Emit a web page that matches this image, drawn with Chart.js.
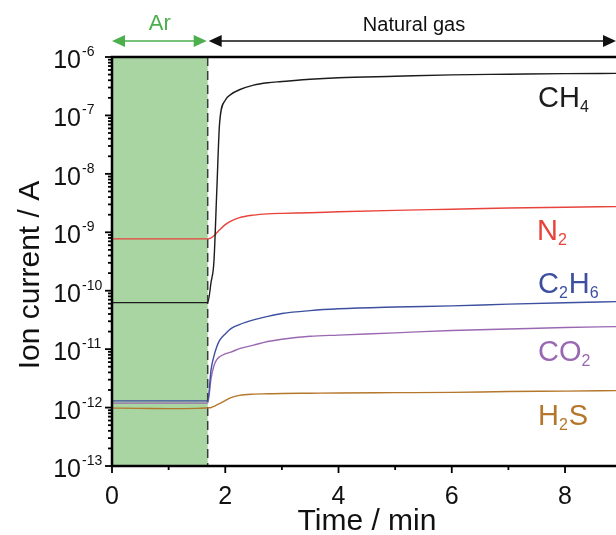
<!DOCTYPE html>
<html>
<head>
<meta charset="utf-8">
<script src="https://cdn.jsdelivr.net/npm/chart.js@4"></script>
<style>
  html, body { margin: 0; padding: 0; background: #fff; }
</style>
</head>
<body>
<canvas id="ionChart" width="616" height="535"></canvas>
<script>
// time axis (min), shared by all series
const times = [0, 0.5, 1.0, 1.5, 1.69, 1.75, 1.8, 1.85, 1.9, 2.0, 2.1, 2.25, 2.5, 2.75, 3.0, 3.5, 4, 5, 6, 7, 8, 8.9];

// ion currents (A)
const ch4  = [6.25e-11, 6.25e-11, 6.25e-11, 6.25e-11, 6.25e-11, 1.41e-10, 3.16e-10, 5.0e-9, 7.4e-8, 1.82e-7, 2.29e-7, 2.75e-7, 3.31e-7, 3.63e-7, 3.80e-7, 4.17e-7, 4.42e-7, 4.68e-7, 4.95e-7, 5.07e-7, 5.19e-7, 5.25e-7];
const n2   = [7.7e-10, 7.7e-10, 7.7e-10, 7.7e-10, 7.7e-10, 8.0e-10, 8.7e-10, 9.8e-10, 1.10e-9, 1.35e-9, 1.55e-9, 1.78e-9, 1.97e-9, 2.07e-9, 2.11e-9, 2.16e-9, 2.24e-9, 2.37e-9, 2.48e-9, 2.60e-9, 2.69e-9, 2.75e-9];
const c2h6 = [1.30e-12, 1.30e-12, 1.30e-12, 1.30e-12, 1.30e-12, 4.5e-12, 7.6e-12, 1.10e-11, 1.41e-11, 1.82e-11, 2.24e-11, 2.63e-11, 3.16e-11, 3.63e-11, 4.07e-11, 4.57e-11, 4.90e-11, 5.25e-11, 5.50e-11, 5.90e-11, 6.24e-11, 6.50e-11];
const co2  = [1.19e-12, 1.19e-12, 1.19e-12, 1.19e-12, 1.19e-12, 3.2e-12, 5.2e-12, 6.6e-12, 7.4e-12, 8.3e-12, 8.9e-12, 1.02e-11, 1.17e-11, 1.35e-11, 1.48e-11, 1.66e-11, 1.74e-11, 1.90e-11, 2.09e-11, 2.21e-11, 2.34e-11, 2.43e-11];
const h2s  = [9.8e-13, 9.7e-13, 9.6e-13, 9.7e-13, 9.9e-13, 1.00e-12, 1.05e-12, 1.11e-12, 1.17e-12, 1.32e-12, 1.48e-12, 1.62e-12, 1.70e-12, 1.72e-12, 1.74e-12, 1.76e-12, 1.78e-12, 1.80e-12, 1.82e-12, 1.88e-12, 1.91e-12, 1.95e-12];

const xTicks = [0, 2, 4, 6, 8];
const xMinorTicks = [1, 3, 5, 7];
const yExponents = [-13, -12, -11, -10, -9, -8, -7, -6];
const arEnd = 1.69;   // switch from Ar to natural gas

const FONT = '"Liberation Sans", Arial, Helvetica, sans-serif';

const series = [
  { name: 'CH4',  data: ch4,  color: '#1c1c1c', label: [['CH', 0], ['4', 1]],        at: [538, 107] },
  { name: 'N2',   data: n2,   color: '#e8433b', label: [['N', 0], ['2', 1]],         at: [537, 240] },
  { name: 'C2H6', data: c2h6, color: '#3d4f9f', label: [['C', 0], ['2', 1], ['H', 0], ['6', 1]], at: [538, 293] },
  { name: 'CO2',  data: co2,  color: '#9a68b2', label: [['CO', 0], ['2', 1]],        at: [538, 361] },
  { name: 'H2S',  data: h2s,  color: '#b5772c', label: [['H', 0], ['2', 1], ['S', 0]], at: [538, 425] }
];

function drawArrow(ctx, xa, xb, y, color) {
  const head = 13, half = 6;
  ctx.strokeStyle = color;
  ctx.fillStyle = color;
  ctx.lineWidth = 1.6;
  ctx.beginPath();
  ctx.moveTo(xa + head - 2, y);
  ctx.lineTo(xb - head + 2, y);
  ctx.stroke();
  ctx.beginPath();
  ctx.moveTo(xa, y); ctx.lineTo(xa + head, y - half); ctx.lineTo(xa + head, y + half); ctx.closePath();
  ctx.fill();
  ctx.beginPath();
  ctx.moveTo(xb, y); ctx.lineTo(xb - head, y - half); ctx.lineTo(xb - head, y + half); ctx.closePath();
  ctx.fill();
}

function drawChem(ctx, parts, x, y, color) {
  ctx.fillStyle = color;
  ctx.textAlign = 'left';
  ctx.textBaseline = 'alphabetic';
  let cx = x;
  parts.forEach(([txt, sub]) => {
    ctx.font = (sub ? '16px ' : '29px ') + FONT;
    ctx.fillText(txt, cx, sub ? y + 5 : y);
    cx += ctx.measureText(txt).width + (sub ? 1 : 0);
  });
}

const overlay = {
  id: 'overlay',
  beforeDatasetsDraw(chart) {
    const { ctx, chartArea: a, scales: { x } } = chart;
    const xe = x.getPixelForValue(arEnd);
    ctx.save();
    ctx.fillStyle = '#a8d5a2';
    ctx.fillRect(a.left, a.top, xe - a.left, a.bottom - a.top);
    ctx.strokeStyle = '#3a3a3a';
    ctx.lineWidth = 1.5;
    ctx.setLineDash([9, 5]);
    ctx.beginPath();
    ctx.moveTo(xe, a.top);
    ctx.lineTo(xe, a.bottom);
    ctx.stroke();
    ctx.restore();
  },
  afterDatasetsDraw(chart) {
    const { ctx, chartArea: a, scales: { x, y } } = chart;
    ctx.save();

    // frame
    ctx.strokeStyle = '#000';
    ctx.lineWidth = 2.5;
    ctx.beginPath();
    ctx.moveTo(616, a.top); ctx.lineTo(a.left, a.top); ctx.lineTo(a.left, a.bottom); ctx.lineTo(616, a.bottom);
    ctx.stroke();

    // y ticks
    ctx.lineWidth = 1.8;
    yExponents.forEach((e, i) => {
      const py = y.getPixelForValue(Math.pow(10, e));
      ctx.beginPath(); ctx.moveTo(a.left - 7, py); ctx.lineTo(a.left, py); ctx.stroke();
      if (i < yExponents.length - 1) {
        for (let m = 2; m <= 9; m++) {
          const pm = y.getPixelForValue(m * Math.pow(10, e));
          ctx.beginPath(); ctx.moveTo(a.left - 4, pm); ctx.lineTo(a.left, pm); ctx.stroke();
        }
      }
    });
    // x ticks
    xTicks.forEach(v => {
      const px = x.getPixelForValue(v);
      ctx.beginPath(); ctx.moveTo(px, a.bottom); ctx.lineTo(px, a.bottom + 7); ctx.stroke();
    });
    xMinorTicks.forEach(v => {
      const px = x.getPixelForValue(v);
      ctx.beginPath(); ctx.moveTo(px, a.bottom); ctx.lineTo(px, a.bottom + 4); ctx.stroke();
    });

    // tick labels
    ctx.fillStyle = '#111';
    yExponents.forEach(e => {
      const py = y.getPixelForValue(Math.pow(10, e));
      ctx.font = '25px ' + FONT;
      ctx.textAlign = 'right';
      ctx.textBaseline = 'alphabetic';
      ctx.fillText('10', 81, py + 11);
      ctx.font = '14px ' + FONT;
      ctx.textAlign = 'left';
      ctx.fillText(String(e), 82, py - 1);
    });
    ctx.font = '25px ' + FONT;
    ctx.textAlign = 'center';
    ctx.textBaseline = 'middle';
    xTicks.forEach(v => ctx.fillText(String(v), x.getPixelForValue(v), 497));

    // axis titles
    ctx.font = '30px ' + FONT;
    ctx.fillText('Time / min', 367, 522);
    ctx.save();
    ctx.translate(31, 275);
    ctx.rotate(-Math.PI / 2);
    ctx.fillText('Ion current / A', 0, 0);
    ctx.restore();

    // gas phase arrows
    const xe = x.getPixelForValue(arEnd);
    drawArrow(ctx, a.left, xe - 1, 41, '#4cae4c');
    drawArrow(ctx, xe + 1, 616, 41, '#111');
    ctx.textAlign = 'center';
    ctx.textBaseline = 'middle';
    ctx.font = '22px ' + FONT;
    ctx.fillStyle = '#4cae4c';
    ctx.fillText('Ar', (a.left + xe) / 2, 24);
    ctx.font = '20px ' + FONT;
    ctx.fillStyle = '#111';
    ctx.fillText('Natural gas', 414, 25);

    // species labels
    series.forEach(s => drawChem(ctx, s.label, s.at[0], s.at[1], s.color));
    ctx.restore();
  }
};

new Chart(document.getElementById('ionChart'), {
  type: 'line',
  data: {
    labels: times,
    datasets: series.map(s => ({
      label: s.name,
      data: s.data,
      borderColor: s.color,
      borderWidth: 1.4,
      pointRadius: 0,
      fill: false,
      cubicInterpolationMode: 'monotone'
    }))
  },
  options: {
    responsive: false,
    animation: false,
    layout: { padding: { top: 57, right: 0, left: 0, bottom: 0 } },
    plugins: { legend: { display: false }, tooltip: { enabled: false } },
    scales: {
      x: {
        type: 'linear', min: 0, max: 8.9,
        ticks: { display: false }, grid: { display: false }, border: { display: false },
        afterFit(s) { s.height = 69; }
      },
      y: {
        type: 'logarithmic', min: 1e-13, max: 1e-6,
        ticks: { display: false }, grid: { display: false }, border: { display: false },
        afterFit(s) { s.width = 112; }
      }
    }
  },
  plugins: [overlay]
});
</script>
</body>
</html>
